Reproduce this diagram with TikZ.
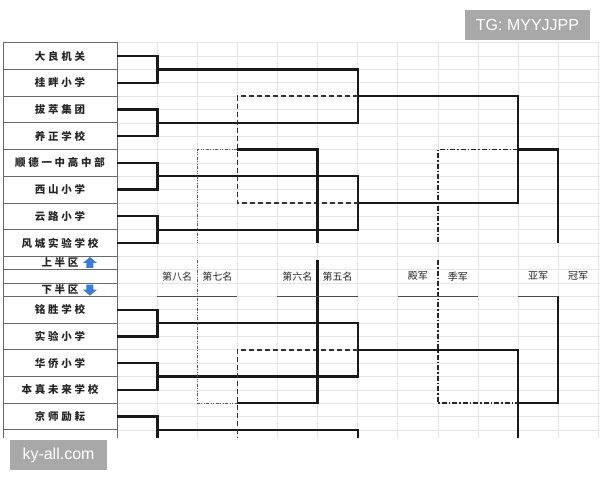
\documentclass[tikz,border=0pt]{standalone}
\usepackage{fontspec}
\newfontfamily\cjk{Noto Sans CJK SC}
\newfontfamily\cjkwide[LetterSpace=26]{Noto Sans CJK SC}
\newfontfamily\wmfont{Liberation Sans}
\definecolor{gridgray}{HTML}{E4E4E4}
\definecolor{cellline}{HTML}{6A6A6A}
\definecolor{arrowblue}{HTML}{3D7BD8}
\definecolor{wmgray}{HTML}{A8A8A8}
\begin{document}
\begin{tikzpicture}[x=40.1pt,y=-13.35pt,
  gridline/.style={gridgray, line width=0.6pt},
  team/.style={draw=cellline, line width=0.8pt, minimum width=114pt, minimum height=26.7pt, inner sep=0pt, text=black!85, font=\cjkwide\bfseries\fontsize{10.5}{12}\selectfont},
  half/.style={team, minimum height=13.35pt},
  win/.style={line width=2.2pt, black!90},
  lose/.style={line width=1.6pt, black!80, dash pattern=on 5pt off 3pt},
  bronze/.style={line width=1.6pt, black!85, dash pattern=on 5pt off 2pt on 1.5pt off 2pt},
  minor/.style={line width=0.9pt, black!65, dash pattern=on 3pt off 1.5pt on 1pt off 1.5pt on 1pt off 1.5pt},
  rank/.style={text=black!85, font=\cjk\fontsize{10}{12}\selectfont},
  underl/.style={line width=1.2pt, black!70},
  badge/.style={fill=wmgray, text=white, inner sep=0pt, font=\wmfont\fontsize{16}{18}\selectfont}
]
\useasboundingbox (-2.918,-3.2) rectangle (12.045,32.76);
\begin{scope}
\clip (-3,-1) rectangle (12.1,29.54);
% sheet grid
\foreach \c in {0,...,12} \draw[gridline] (\c,-0.05) -- (\c,29.6);
\foreach \r in {0,...,29} \draw[gridline] (0,\r) -- (12.1,\r);
% teams
\node[team] (t1) at (-1.4215,1) {大良机关};
\node[team] (t2) at (-1.4215,3) {桂畔小学};
\node[team] (t3) at (-1.4215,5) {拔萃集团};
\node[team] (t4) at (-1.4215,7) {养正学校};
\node[team] (t5) at (-1.4215,9) {顺德一中高中部};
\node[team] (t6) at (-1.4215,11) {西山小学};
\node[team] (t7) at (-1.4215,13) {云路小学};
\node[team] (t8) at (-1.4215,15) {风城实验学校};
\node[half] (uphalf) at (-1.4215,16.5) {上半区};
\node[half] (midrow) at (-1.4215,17.5) {};
\node[half] (lowhalf) at (-1.4215,18.5) {下半区};
\node[team] (b1) at (-1.4215,20) {铭胜学校};
\node[team] (b2) at (-1.4215,22) {实验小学};
\node[team] (b3) at (-1.4215,24) {华侨小学};
\node[team] (b4) at (-1.4215,26) {本真未来学校};
\node[team] (b5) at (-1.4215,28) {京师励耘};
\node[team] (b6) at (-1.4215,30) {};
% half arrows
\fill[arrowblue] (-0.675,16.5) ++(0pt,6pt) -- ++(-7pt,-6pt) -- ++(3.5pt,0) -- ++(0,-5pt) -- ++(7pt,0) -- ++(0,5pt) -- ++(3.5pt,0) -- cycle;
\fill[arrowblue] (-0.675,18.5) ++(0pt,-6pt) -- ++(-7pt,6pt) -- ++(3.5pt,0) -- ++(0,5pt) -- ++(7pt,0) -- ++(0,-5pt) -- ++(3.5pt,0) -- cycle;
% first round
\foreach \a/\b in {t1/t2,t3/t4,t5/t6,t7/t8,b1/b2,b3/b4,b5/b6}
  \draw[win] (\a.east) -- ++(1,0) |- (\b.east);
\coordinate (q1) at (1,2);
\coordinate (q2) at (1,6);
\coordinate (q3) at (1,10);
\coordinate (q4) at (1,14);
\coordinate (q5) at (1,21);
\coordinate (q6) at (1,25);
\coordinate (q7) at (1,29);
\coordinate (s1) at (6,4);
\coordinate (s2) at (6,12);
\coordinate (s3) at (6,23);
\coordinate (f1) at (10,8);
\coordinate (f2) at (10,27);
\coordinate (p1) at (3,8);
\coordinate (p2) at (3,27);
% winners
\draw[win] (q1) -| (s1) |- (q2);
\draw[win] (q3) -| (s2) |- (q4);
\draw[win] (s1) -| (f1) |- (s2);
\draw[win] (f1) -| (11,15);
\draw[win] (q5) -| (s3) |- (q6);
\draw[win] (q7) -| (6,31);
\draw[win] (s3) -| (10,31);
\draw[win] (f2) -| (11,19);
% losers
\draw[lose] (s1) -| (p1) |- (s2);
\draw[lose] (s3) -| (3,31);
\draw[bronze] (f1) -| (8,15);
\draw[bronze] (8,16.3) |- (f2);
\draw[win] (p1) -| (5,15);
\draw[win] (5,16.3) |- (p2);
\draw[minor] (p1) -| (2,15);
\draw[minor] (2,16.3) |- (p2);
% places
\node[rank] (r8) at (1.5,17.5) {第八名};
\node[rank] (r7) at (2.5,17.5) {第七名};
\node[rank] (r6) at (4.5,17.5) {第六名};
\node[rank] (r5) at (5.5,17.5) {第五名};
\node[rank] (r4) at (7.5,17.5) {殿军};
\node[rank] (r3) at (8.5,17.5) {季军};
\node[rank] (r2) at (10.5,17.5) {亚军};
\node[rank] (r1) at (11.5,17.5) {冠军};
\draw[underl] (1,19) -- (3,19);
\draw[underl] (4,19) -- (6,19);
\draw[underl] (7,19) -- (9,19);
\draw[underl] (10,19) -- (11,19);
\end{scope}
% marks
\node[badge, minimum width=125pt, minimum height=30pt] (tg) at (10.237,-1.326) {TG: MYYJJPP};
\node[badge, minimum width=97pt, minimum height=30pt] (site) at (-1.4585,30.885) {ky-all.com};
\end{tikzpicture}
\end{document}
